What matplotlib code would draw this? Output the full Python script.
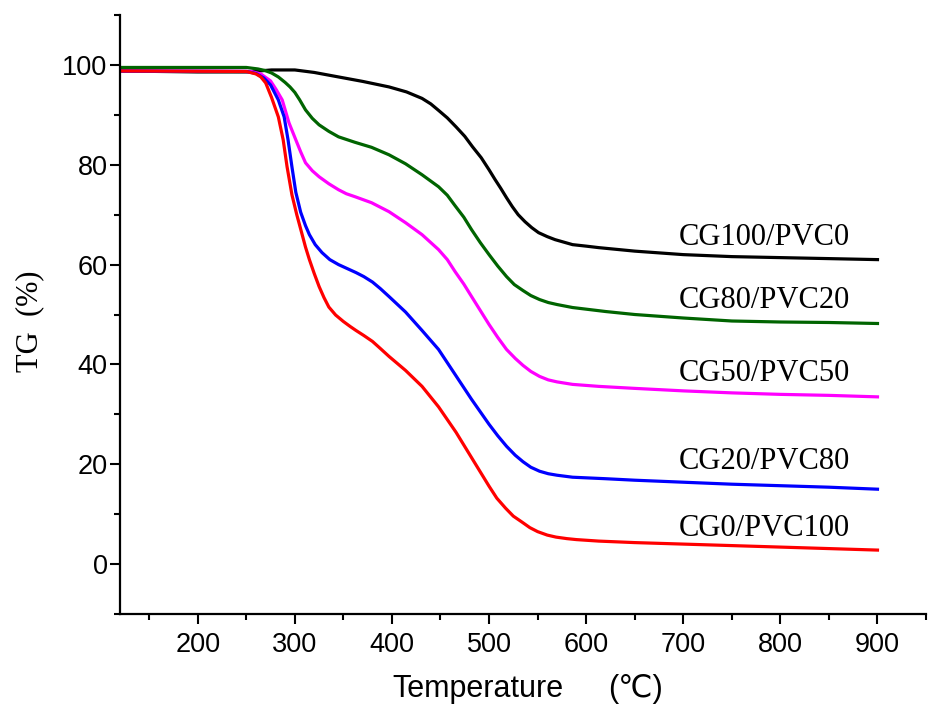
import matplotlib
matplotlib.use("Agg")
import matplotlib.pyplot as plt
from matplotlib.ticker import MultipleLocator

# TG curves (temperature in C, mass in %)
t_cg100 = [120, 200, 250, 276, 300, 320, 345, 370, 397, 415, 431, 440, 448, 457, 466, 475, 483, 492,
           500, 506, 512, 518, 524, 530, 537, 544, 551, 560, 568, 577, 586, 600, 613, 650, 700, 750,
           800, 850, 900]
tg_cg100 = [98.8, 98.6, 98.6, 99.0, 99.0, 98.5, 97.6, 96.7, 95.6, 94.6, 93.3, 92.2, 90.9, 89.4, 87.6, 85.7,
            83.6, 81.4, 79.0, 77.1, 75.3, 73.4, 71.6, 70.0, 68.6, 67.4, 66.4, 65.6, 65.0, 64.5, 64.0, 63.7,
            63.4, 62.7, 62.0, 61.6, 61.4, 61.2, 61.0]

t_cg80 = [120, 250, 262, 269, 276, 283, 290, 295, 300, 305, 311, 318, 325, 335, 345, 362, 379, 397,
          414, 431, 448, 457, 465, 474, 482, 491, 500, 509, 518, 526, 535, 543, 552, 561, 570, 586,
          620, 650, 700, 750, 800, 850, 900]
tg_cg80 = [99.5, 99.5, 99.2, 98.9, 98.4, 97.6, 96.5, 95.6, 94.5, 93.0, 91.0, 89.3, 88.0, 86.7, 85.6, 84.5,
           83.5, 82.0, 80.2, 78.0, 75.6, 73.9, 71.8, 69.5, 67.0, 64.4, 62.0, 59.7, 57.6, 56.0, 54.8, 53.8,
           53.0, 52.4, 52.0, 51.4, 50.6, 50.0, 49.3, 48.7, 48.5, 48.4, 48.2]

t_cg50 = [120, 255, 265, 275, 281, 287, 294, 301, 306, 311, 318, 325, 335, 345, 353, 362, 379, 397,
          414, 431, 448, 457, 465, 474, 482, 491, 500, 509, 518, 527, 535, 543, 552, 561, 570, 586,
          613, 650, 700, 750, 800, 850, 900]
tg_cg50 = [98.8, 98.7, 98.2, 96.8, 95.0, 93.0, 88.4, 85.0, 82.6, 80.4, 78.8, 77.6, 76.2, 75.0, 74.2, 73.6,
           72.4, 70.6, 68.4, 66.0, 63.0, 61.0, 58.6, 56.1, 53.6, 50.8, 48.0, 45.4, 43.0, 41.2, 39.8, 38.6,
           37.6, 36.9, 36.5, 36.0, 35.6, 35.2, 34.7, 34.3, 34.0, 33.8, 33.5]

t_cg20 = [120, 250, 260, 268, 275, 283, 289, 293, 297, 301, 306, 311, 315, 321, 328, 336, 345, 354,
          363, 371, 380, 388, 397, 414, 431, 448, 465, 482, 491, 500, 509, 518, 527, 535, 543, 552,
          561, 570, 586, 620, 650, 700, 750, 800, 850, 900]
tg_cg20 = [98.8, 98.7, 98.3, 97.4, 96.0, 93.0, 89.6, 85.0, 79.6, 74.5, 70.5, 67.8, 66.0, 64.0, 62.4, 61.0,
           60.0, 59.2, 58.4, 57.6, 56.5, 55.2, 53.6, 50.5, 46.8, 43.0, 38.0, 33.0, 30.5, 28.0, 25.7, 23.6,
           21.8, 20.5, 19.4, 18.6, 18.1, 17.8, 17.4, 17.1, 16.8, 16.4, 16.0, 15.7, 15.4, 15.0]

t_cg0 = [120, 250, 260, 265, 270, 276, 283, 288, 292, 297, 302, 307, 311, 315, 320, 325, 330, 335,
         342, 350, 357, 363, 371, 380, 388, 397, 414, 431, 448, 466, 483, 500, 508, 517, 525, 534,
         542, 550, 560, 569, 580, 590, 613, 650, 700, 750, 800, 850, 900]
tg_cg0 = [98.8, 98.7, 98.2, 97.6, 96.4, 93.5, 89.6, 85.0, 79.6, 74.0, 70.0, 66.4, 63.5, 61.0, 58.2, 55.6,
          53.4, 51.5, 49.9, 48.6, 47.6, 46.8, 45.8, 44.6, 43.2, 41.6, 38.8, 35.6, 31.5, 26.4, 21.0, 15.6,
          13.2, 11.2, 9.6, 8.4, 7.3, 6.5, 5.8, 5.4, 5.1, 4.9, 4.6, 4.3, 4.0, 3.7, 3.4, 3.1, 2.8]

series = [
    ("CG100/PVC0", t_cg100, tg_cg100, "black", 64.0),
    ("CG80/PVC20", t_cg80, tg_cg80, "#006400", 51.4),
    ("CG50/PVC50", t_cg50, tg_cg50, "#ff00ff", 36.6),
    ("CG20/PVC80", t_cg20, tg_cg20, "#0000ff", 19.0),
    ("CG0/PVC100", t_cg0, tg_cg0, "#ff0000", 5.6),
]

sans = ["Liberation Sans", "DejaVu Sans"]
serif = ["Liberation Serif", "DejaVu Serif"]

fig = plt.figure(figsize=(9.32, 7.17), dpi=100)
ax = fig.add_axes([0.1288, 0.1437, 0.8648, 0.8353])

for name, t, tg, col, ylab in series:
    ax.plot(t, tg, color=col, lw=2.3, solid_joinstyle="round")
    ax.text(695, ylab, name, family=serif, fontsize=22, ha="left", va="baseline")

ax.set_xlim(120, 950)
ax.set_ylim(-10, 110)
ax.xaxis.set_minor_locator(MultipleLocator(50))
ax.yaxis.set_major_locator(MultipleLocator(20))
ax.yaxis.set_minor_locator(MultipleLocator(10))
ax.set_xticks(range(200, 901, 100))

for s in ["top", "right"]:
    ax.spines[s].set_visible(False)
for s in ["left", "bottom"]:
    ax.spines[s].set_linewidth(1.6)

ax.tick_params(which="major", direction="out", length=7, width=1.5)
ax.tick_params(which="minor", direction="out", length=4.5, width=1.5)
ax.tick_params(axis="x", which="major", pad=6)
ax.tick_params(axis="y", which="major", pad=2)
for lab in ax.get_xticklabels() + ax.get_yticklabels():
    lab.set_family(sans)
    lab.set_fontsize(19.5)

fig.text(30 / 932, 0.552, "TG  (%)", family=serif, fontsize=22,
         rotation=90, ha="center", va="center")
fig.text(392 / 932, 0.028, "Temperature", family=sans, fontsize=22, ha="left", va="baseline")
fig.text(608 / 932, 0.028, "(\u2103)", family=["Liberation Sans", "DejaVu Sans", "Noto Sans CJK SC"],
         fontsize=22, ha="left", va="baseline")

fig.savefig("out.png", dpi=100)
